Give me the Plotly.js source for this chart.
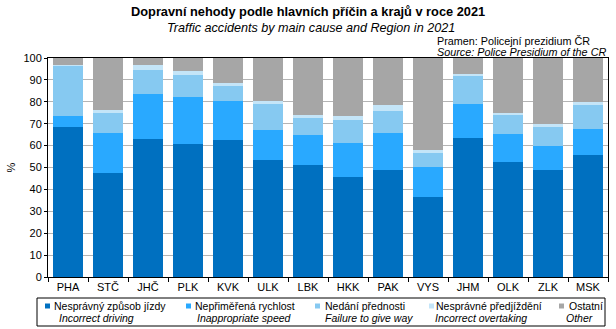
<!DOCTYPE html>
<html>
<head>
<meta charset="utf-8">
<script src="https://cdn.plot.ly/plotly-3.0.1.min.js"></script>
<style>html,body{margin:0;padding:0;background:#fff}#chart{width:616px;height:329px}</style>
</head>
<body>
<div id="chart"></div>
<script>
const regions = ["PHA","STČ","JHČ","PLK","KVK","ULK","LBK","HKK","PAK","VYS","JHM","OLK","ZLK","MSK"];
const incorrectDriving = [68.6,47.6,63.2,60.9,62.7,53.6,51.3,45.8,49.0,36.7,63.6,52.7,49.0,55.9];
const inappropriateSpeed = [5.1,18.3,20.5,21.4,17.8,13.7,13.7,15.5,16.9,13.7,15.5,12.7,11.0,11.8];
const failureToGiveWay = [22.8,9.1,11.0,10.1,6.9,11.8,7.8,10.5,10.0,6.4,12.8,8.7,8.6,11.0];
const incorrectOvertaking = [0.3,1.4,2.3,1.8,1.3,1.4,1.3,1.9,2.8,1.3,0.9,0.9,1.4,1.4];
const other = [3.2,23.6,3.0,5.8,11.3,19.5,25.9,26.3,21.3,41.9,7.2,25.0,30.0,19.9];
const namesCz = ["Nesprávný způsob jízdy","Nepřiměřená rychlost","Nedání přednosti","Nesprávné předjíždění","Ostatní"];
const namesEn = ["Incorrect driving","Inappropriate speed","Failure to give way","Incorrect overtaking","Other"];
const yTicks = [0,10,20,30,40,50,60,70,80,90,100];

const colors = ["#0070C0","#29A9FF","#86C9F1","#C4E5F8","#A6A6A6"];
const series = [incorrectDriving, inappropriateSpeed, failureToGiveWay, incorrectOvertaking, other];
const FONT = "Arial, 'Liberation Sans', sans-serif";

const traces = series.map((vals, i) => ({
  type: "bar", x: regions, y: vals, name: namesCz[i],
  marker: {color: colors[i], line: {width: 0}},
  showlegend: false, hoverinfo: "x+y+name"
}));

// plot area in pixels
const L = 48, R = 608, T = 58, B = 277;
const px = x => (x - L) / (R - L);
const py = y => (B - y) / (B - T);

const annotations = [
  {text: "<b>Dopravní nehody podle hlavních příčin a krajů v roce 2021</b>", x: px(308), y: py(12), font: {size: 12.8}},
  {text: "<i>Traffic accidents by main cause and Region in 2021</i>", x: px(311), y: py(28), font: {size: 12.6}},
  {text: "Pramen: Policejní prezidium ČR", x: px(436), y: py(40.5), xanchor: "left", font: {size: 10.8}},
  {text: "<i>Source: Police Presidium of the CR</i>", x: px(436), y: py(52), xanchor: "left", font: {size: 10.8}}
].map(a => Object.assign({xref: "paper", yref: "paper", showarrow: false, yanchor: "middle", borderpad: 0, xanchor: a.xanchor || "center"}, a));

const markerX = [45, 186, 315, 429, 559];
const textX = [53, 194, 324, 435, 568];
const enX = [58, 196, 324, 434, 565];
const shapes = [
  {type: "rect", xref: "paper", yref: "paper", x0: px(37), x1: px(605), y0: py(298), y1: py(326), line: {color: "#000", width: 1}, fillcolor: "rgba(0,0,0,0)"}
];
namesCz.forEach((n, i) => {
  shapes.push({type: "rect", xref: "paper", yref: "paper", x0: px(markerX[i]), x1: px(markerX[i] + 5), y0: py(303.5), y1: py(308.5), line: {width: 0}, fillcolor: colors[i]});
  annotations.push({text: n, xref: "paper", yref: "paper", x: px(textX[i]), y: py(306), xanchor: "left", yanchor: "middle", borderpad: 0, showarrow: false, font: {size: 10.5}});
  annotations.push({text: "<i>" + namesEn[i] + "</i>", xref: "paper", yref: "paper", x: px(enX[i]), y: py(318), xanchor: "left", yanchor: "middle", borderpad: 0, showarrow: false, font: {size: 10.5}});
});

const layout = {
  width: 616, height: 329,
  margin: {l: L, r: 616 - R, t: T, b: 329 - B, pad: 0},
  paper_bgcolor: "#fff", plot_bgcolor: "#fff",
  font: {family: FONT, size: 11, color: "#000"},
  barmode: "stack", bargap: 0.25,
  xaxis: {type: "category", showline: true, linecolor: "#000", linewidth: 1, mirror: true,
          ticks: "outside", tickson: "boundaries", ticklen: 4, tickcolor: "#000",
          showgrid: false, tickfont: {size: 11}, fixedrange: true},
  yaxis: {range: [0, 100], tickvals: yTicks, ticktext: yTicks.map(String),
          showline: true, linecolor: "#000", linewidth: 1, mirror: true,
          ticks: "outside", ticklen: 3, tickcolor: "#000",
          showgrid: true, gridcolor: "#B4B4B4", gridwidth: 1, zeroline: false,
          tickfont: {size: 11},
          title: {text: "%", font: {size: 11}, standoff: 5}, fixedrange: true},
  annotations: annotations, shapes: shapes, showlegend: false
};

Plotly.newPlot("chart", traces, layout, {displayModeBar: false, staticPlot: true});
</script>
</body>
</html>
